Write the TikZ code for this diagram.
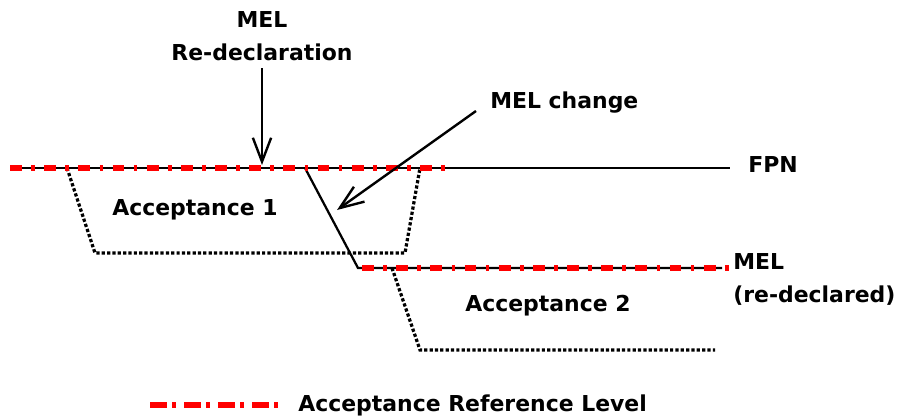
\documentclass[tikz,border=0pt]{standalone}
\usepackage{fontspec}
\setmainfont{DejaVu Sans}
\usepackage{tikz}
\usetikzlibrary{arrows.meta, positioning, calc}

\tikzset{
  lbl/.style={font=\fontsize{15.6}{23.5}\selectfont\bfseries, inner sep=0pt},
  level/.style={black, line width=1.6pt},
  refline/.style={red, line width=3.6pt, dash pattern=on 8.5pt off 6.6pt on 2.6pt off 6.6pt},
  legendline/.style={refline, dash pattern=on 12pt off 3.8pt on 2.4pt off 6pt},
  band/.style={black, line width=2.3pt, dash pattern=on 2.3pt off 1.5pt},
  pointer/.style={black, line width=1.7pt, -{Straight Barb[length=17pt, width=13pt, line width=1.7pt]}}
}

\begin{document}
\begin{tikzpicture}[x=0.025cm, y=0.025cm]
  \useasboundingbox (0,0) rectangle (902,417);

  % Levels
  \coordinate (F0) at (10,249);
  \coordinate (F1) at (730,249);
  \coordinate (Fr) at (445,249);
  \coordinate (K) at (305,249);
  \coordinate (M0) at (358,149);
  \coordinate (M1) at (722,149);
  \coordinate (Mr) at (730,149);

  % Acceptance bands
  \coordinate (A1) at (67,249);
  \coordinate (A2) at (95,164);
  \coordinate (A3) at (405,164);
  \coordinate (A4) at (420,249);
  \coordinate (B1) at (392,149);
  \coordinate (B2) at (420,67);
  \coordinate (B3) at (715,67);

  % FPN line and the step down to MEL
  \draw[level] (F0) -- (F1);
  \draw[level] (K) -- (M0) -- (M1);

  % Dotted acceptance bands
  \draw[band] (A1) -- (A2) -- (A3) -- (A4);
  \draw[band] (B1) -- (B2) -- (B3);

  % Acceptance reference levels
  \draw[refline] (F0) -- (Fr);
  \draw[refline] ($(M0)+(4,0)$) -- (Mr);

  % Labels
  \node[lbl, align=center] (redecl) at (262,381) {MEL\\Re-declaration};
  \node[lbl, anchor=west] (change) at (490,314) {MEL change};
  \node[lbl, anchor=west] (fpn) at (748,252) {FPN};
  \node[lbl, anchor=west, align=left] (mel) at (733,138) {MEL\\(re-declared)};
  \node[lbl] (acc1) at (195,207) {Acceptance 1};
  \node[lbl] (acc2) at (548,111) {Acceptance 2};

  % Pointers
  \coordinate (R0) at (262,349);
  \coordinate (R1) at (262,252);
  \coordinate (C0) at (476,306);
  \coordinate (C1) at (337,207);
  \draw[pointer] (R0) -- (R1);
  \draw[pointer] (C0) -- (C1);

  % Legend
  \coordinate (L0) at (150,12);
  \coordinate (L1) at (278,12);
  \draw[legendline] (L0) -- (L1);
  \node[lbl, anchor=west] (legend) at (298,12) {Acceptance Reference Level};
\end{tikzpicture}
\end{document}
